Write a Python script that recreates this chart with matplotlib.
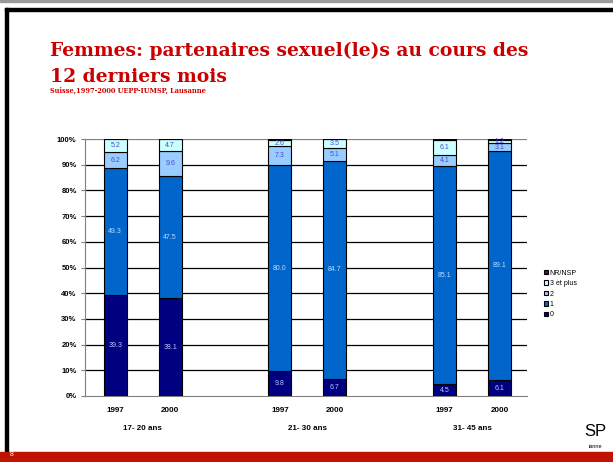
import numpy as np
import matplotlib
matplotlib.use('Agg')
import matplotlib.pyplot as plt
from matplotlib.patches import Rectangle

plt.rcParams['font.family'] = ['Liberation Sans', 'DejaVu Sans']

# Données (pourcentages)
annees = ['1997', '2000', '1997', '2000', '1997', '2000']
groupes = ['17- 20 ans', '21- 30 ans', '31- 45 ans']
pos = [0, 1, 3, 4, 6, 7]

zero = [39.3, 38.1, 9.8, 6.7, 4.5, 6.1]
un = [49.3, 47.5, 80.0, 84.7, 85.1, 89.1]
deux = [6.2, 9.6, 7.3, 5.1, 4.1, 3.1]
trois_plus = [5.2, 4.7, 2.6, 3.5, 6.1, 1.2]
nr_nsp = [0.0, 0.1, 0.3, 0.0, 0.2, 0.5]

series = [('0', zero, '#000080', '#b8c8ff'),
          ('1', un, '#0066cc', '#b8d8ff'),
          ('2', deux, '#99ccff', '#4a4ad0'),
          ('3 et plus', trois_plus, '#ccffff', '#4a4ad0'),
          ('NR/NSP', nr_nsp, '#660066', '#ffffff')]

fig = plt.figure(figsize=(6.13, 4.62), dpi=100)
fig.patch.set_facecolor('white')

# cadre de la diapo
fig.patches.append(Rectangle((0, 1 - 2 / 462), 1, 2 / 462, transform=fig.transFigure,
                             color='#9a9a9a', zorder=0))
fig.patches.append(Rectangle((5 / 613, 1 - 11 / 462), 1, 3 / 462, transform=fig.transFigure,
                             color='black', zorder=1))
fig.patches.append(Rectangle((5 / 613, 0), 3 / 613, 1 - 8 / 462, transform=fig.transFigure,
                             color='black', zorder=1))
fig.patches.append(Rectangle((0, 0), 1, 10 / 462, transform=fig.transFigure,
                             color='#c01400', zorder=2))
fig.text(10 / 613, 4 / 462, '8', color='white', fontsize=5, va='bottom')

# titres
titre = dict(color='#cc0000', fontweight='bold', family='DejaVu Serif', va='center')
fig.text(50 / 613, 1 - 51 / 462, 'Femmes: partenaires sexuel(le)s au cours des',
         fontsize=13.5, **titre)
fig.text(50 / 613, 1 - 77 / 462, '12 derniers mois', fontsize=13.5, **titre)
fig.text(50 / 613, 1 - 91 / 462, 'Suisse,1997-2000 UEPP-IUMSP, Lausanne',
         fontsize=4.8, **titre)

ax = fig.add_axes([85 / 613, 1 - 396 / 462, 442 / 613, 257 / 462])
bas = np.zeros(len(pos))
handles = []
for nom, vals, couleur, tcoul in series:
    v = np.array(vals)
    b = ax.bar(pos, v, 0.42, bottom=bas, color=couleur, edgecolor='black',
               linewidth=0.8, label=nom, zorder=3)
    handles.append(b)
    if nom != 'NR/NSP':
        for x, val, b0 in zip(pos, v, bas):
            ax.text(x, b0 + val / 2, f'{val:.1f}', ha='center', va='center',
                    fontsize=5, color=tcoul, zorder=4)
    bas += v

ax.set_xlim(-0.55, 7.5)
ax.set_ylim(0, 100)
ax.set_yticks(np.arange(0, 101, 10))
ax.set_yticklabels([f'{t}%' for t in range(0, 101, 10)], fontsize=5.5, fontweight='bold')
for t in range(10, 100, 10):
    ax.axhline(t, color='black', linewidth=0.9, zorder=1)
ax.axhline(100, color='#808080', linewidth=0.9, zorder=1)
ax.set_xticks(pos)
ax.set_xticklabels(annees, fontsize=5.8, fontweight='bold')
ax.tick_params(axis='x', length=0, pad=8)
ax.tick_params(axis='y', length=3, color='#808080', pad=3)
for s in ['top', 'right']:
    ax.spines[s].set_visible(False)
ax.spines['left'].set_color('#808080')
ax.spines['bottom'].set_color('#808080')

for i, g in enumerate(groupes):
    ax.text((pos[2 * i] + pos[2 * i + 1]) / 2, -12.8, g, ha='center', va='center',
            fontsize=5.8, fontweight='bold', transform=ax.transData, clip_on=False)

leg = fig.legend(handles[::-1], [s[0] for s in series][::-1],
                 loc='center left', bbox_to_anchor=(538 / 613, 1 - 294 / 462),
                 frameon=False, fontsize=5, handlelength=0.6, handleheight=0.6,
                 handletextpad=0.2, labelspacing=0.5)

fig.text(584 / 613, 1 - 432 / 462, 'SP', fontsize=12, va='center', ha='left')
fig.text(589 / 613, 1 - 447 / 462, 'ianne', fontsize=4, va='center', ha='left')

fig.savefig('out.png', dpi=100)
